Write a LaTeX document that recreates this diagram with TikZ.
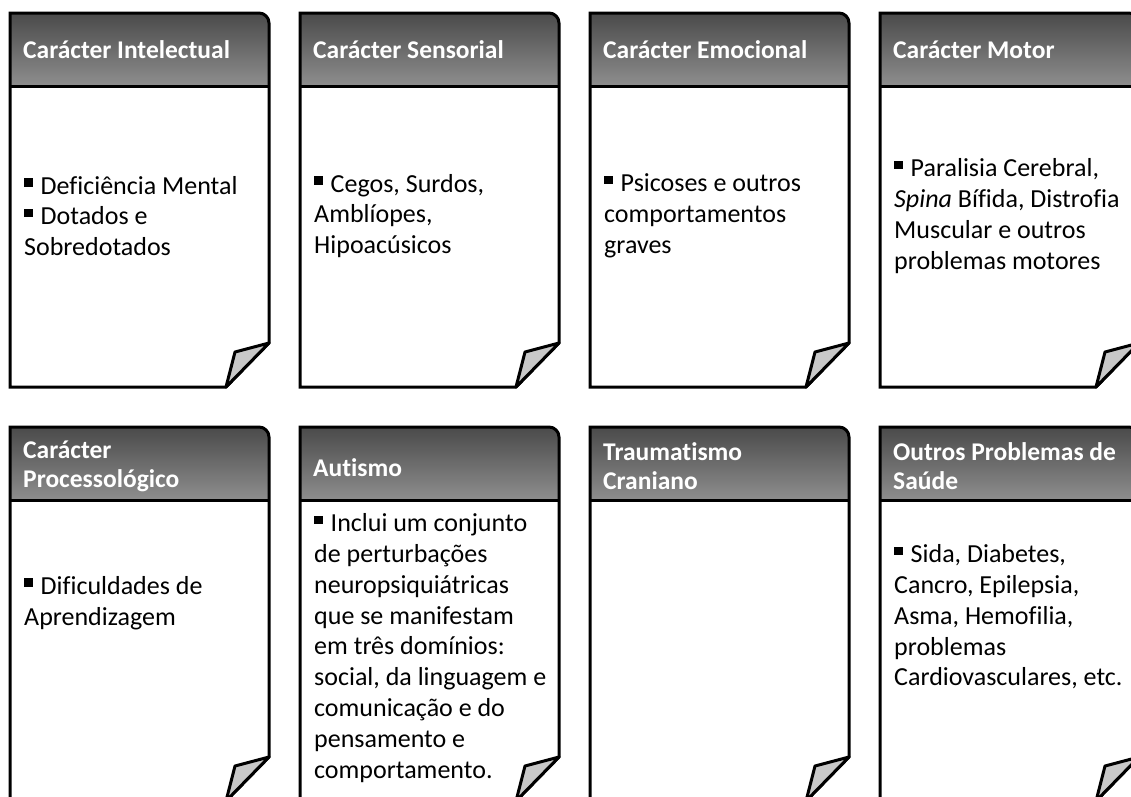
\documentclass[tikz,border=0pt]{standalone}
\usepackage{fontspec}
\setmainfont{Carlito}[Ligatures=NoCommon]
\definecolor{hdtop}{HTML}{4A4A4A}
\definecolor{hdbot}{HTML}{8E8E8E}
\definecolor{foldgray}{HTML}{C8C8C8}
\newcommand\bul{\rule[7.5pt]{8.5pt}{8.5pt}\hspace{8pt}}
\tikzset{
  hdtext/.style={font=\bfseries\fontsize{25.5}{29}\selectfont, text=white, anchor=west, align=left, inner sep=0pt},
  bodytext/.style={font=\fontsize{26}{30.8}\selectfont, text=black, anchor=west, align=left, inner sep=0pt},
  cardline/.style={draw=black, line width=3pt, line join=miter},
  foldflap/.style={draw=black, line width=3pt, fill=foldgray, line join=round}
}
\begin{document}
\begin{tikzpicture}[x=1pt,y=-1pt]
\useasboundingbox (0,0) rectangle (1131,796);
\clip (0,0) rectangle (1131,796);
\fill[white] (0,0) rectangle (1131,796);
\foreach \L/\T in {10/13,300/13,590/13,880/13,10/427,300/427,590/427,880/427}{
  \pgfmathsetmacro\R{\L+259}
  \pgfmathsetmacro\B{\T+374}
  \pgfmathsetmacro\H{\T+73}
  % header
  \fill[top color=hdtop, bottom color=hdbot]
    (\L,\H) -- (\L,\T) -- ({\R-10},\T) .. controls ({\R-4.5},\T) and (\R,{\T+4.5}) .. (\R,{\T+10}) -- (\R,\H) -- cycle;
  % body
  \fill[white] (\L,\H) -- (\L,\B) -- ({\R-43},\B) -- (\R,{\B-44}) -- (\R,\H) -- cycle;
  % outline
  \draw[cardline]
    (\L,\T) -- ({\R-10},\T) .. controls ({\R-4.5},\T) and (\R,{\T+4.5}) .. (\R,{\T+10})
    -- (\R,{\B-44}) -- ({\R-43},\B) -- (\L,\B) -- cycle;
  \draw[cardline] (\L,\H) -- (\R,\H);
  % fold
  \draw[foldflap] (\R,{\B-44}) -- ({\R-34},{\B-35}) -- ({\R-43},\B) -- cycle;
}
% headers row 1
\node[hdtext] (h1) at (23,50) {Carácter Intelectual};
\node[hdtext] (h2) at (313,50) {Carácter Sensorial};
\node[hdtext] (h3) at (603,50) {Carácter Emocional};
\node[hdtext] (h4) at (893,50) {Carácter Motor};
% headers row 2
\node[hdtext] (h5) at (23,466) {Carácter\\Processológico};
\node[hdtext] (h6) at (313,468) {Autismo};
\node[hdtext] (h7) at (603,466) {Traumatismo\\Craniano};
\node[hdtext] (h8) at (893,466) {Outros Problemas de\\Saúde};
% bodies row 1
\node[bodytext] (b1) at (24,216) {\bul Deficiência Mental\\\bul Dotados e\\Sobredotados};
\node[bodytext] (b2) at (314,216) {\bul Cegos, Surdos,\\Amblíopes,\\Hipoacúsicos};
\node[bodytext] (b3) at (604,216) {\bul Psicoses e outros\\comportamentos\\graves};
\node[bodytext] (b4) at (894,216) {\bul Paralisia Cerebral,\\\textit{Spina} Bífida, Distrofia\\Muscular e outros\\problemas motores};
% bodies row 2
\node[bodytext] (b5) at (24,603) {\bul Dificuldades de\\Aprendizagem};
\node[bodytext] (b6) at (314,648) {\bul Inclui um conjunto\\de perturbações\\neuropsiquiátricas\\que se manifestam\\em três domínios:\\social, da linguagem e\\comunicação e do\\pensamento e\\comportamento.};
\node[bodytext] (b8) at (894,617) {\bul Sida, Diabetes,\\Cancro, Epilepsia,\\Asma, Hemofilia,\\problemas\\Cardiovasculares, etc.};
\end{tikzpicture}
\end{document}
